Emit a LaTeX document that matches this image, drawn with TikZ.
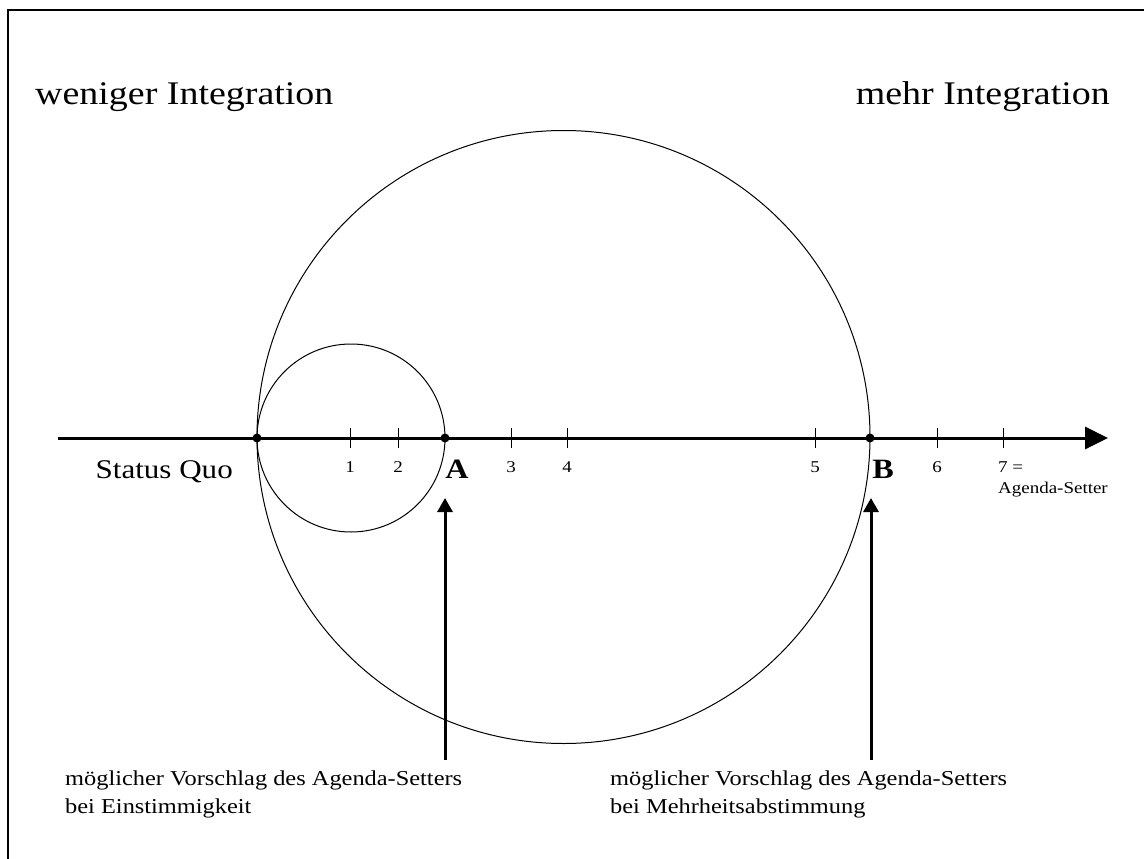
\documentclass[tikz,border=0pt]{standalone}
\usepackage{fontspec}
\setmainfont[FakeStretch=1.15]{Liberation Serif}
\usetikzlibrary{arrows.meta}
\begin{document}
\begin{tikzpicture}[x=1pt,y=-1pt,
  big/.style={font=\fontsize{33}{38}\selectfont, inner sep=0pt},
  mid/.style={font=\fontsize{27}{32}\selectfont, inner sep=0pt},
  small/.style={font=\fontsize{16.5}{20}\selectfont, inner sep=0pt},
  letter/.style={font=\fontsize{28}{32}\selectfont\bfseries, inner sep=0pt},
  note/.style={font=\fontsize{21.2}{28}\selectfont, align=left, anchor=base west, inner sep=0pt},
  tick/.style={line width=0.9pt},
  axis/.style={line width=3pt, -{Triangle[length=23pt,width=22pt]}},
  uparrow/.style={line width=3pt, -{Triangle[length=14pt,width=15pt]}},
  dot/.style={circle, fill=black, inner sep=0pt, minimum size=9pt}]
\useasboundingbox (0,0) rectangle (1144,859);
\draw[line width=2pt] (8,859) -- (8,10) -- (1144,10);
% circles
\draw[line width=1pt] (351,438) circle [radius=94];
\draw[line width=1pt] (563.5,437) circle [radius=306.5];
% axis
\coordinate (axL) at (58,438);
\coordinate (axR) at (1108,438);
\draw[axis] (axL) -- (axR);
% ticks
\foreach \x in {350,398,511,567,815,937,1003}{
  \draw[tick] (\x,428) -- (\x,448);
}
\node[dot] (sq) at (257,438) {};
\node[dot] (A) at (445,438) {};
\node[dot] (B) at (870,438) {};
% labels
\node[big, anchor=base west] (wi) at (35,104) {weniger Integration};
\node[big, anchor=base east] (mi) at (1110,104) {mehr Integration};
\node[mid, anchor=base east] (sql) at (233,478) {Status Quo};
\node[small, anchor=base] (l1) at (350,472) {1};
\node[small, anchor=base] (l2) at (398,472) {2};
\node[small, anchor=base] (l3) at (511,472) {3};
\node[small, anchor=base] (l4) at (567,472) {4};
\node[small, anchor=base] (l5) at (815,472) {5};
\node[small, anchor=base] (l6) at (937,472) {6};
\node[small, anchor=base west] (l7) at (998,472) {7 =};
\node[small, anchor=base west] (ag) at (998,493) {Agenda-Setter};
\node[letter, anchor=base] (Al) at (457,478) {A};
\node[letter, anchor=base] (Bl) at (883,478) {B};
% arrows
\coordinate (a0) at (445,760);
\coordinate (a1) at (445,498);
\coordinate (b0) at (871,760);
\coordinate (b1) at (871,498);
\draw[uparrow] (a0) -- (a1);
\draw[uparrow] (b0) -- (b1);
\node[note] (na) at (65,813) {möglicher Vorschlag des Agenda-Setters\\bei Einstimmigkeit};
\node[note] (nb) at (610,813) {möglicher Vorschlag des Agenda-Setters\\bei Mehrheitsabstimmung};
\end{tikzpicture}
\end{document}
